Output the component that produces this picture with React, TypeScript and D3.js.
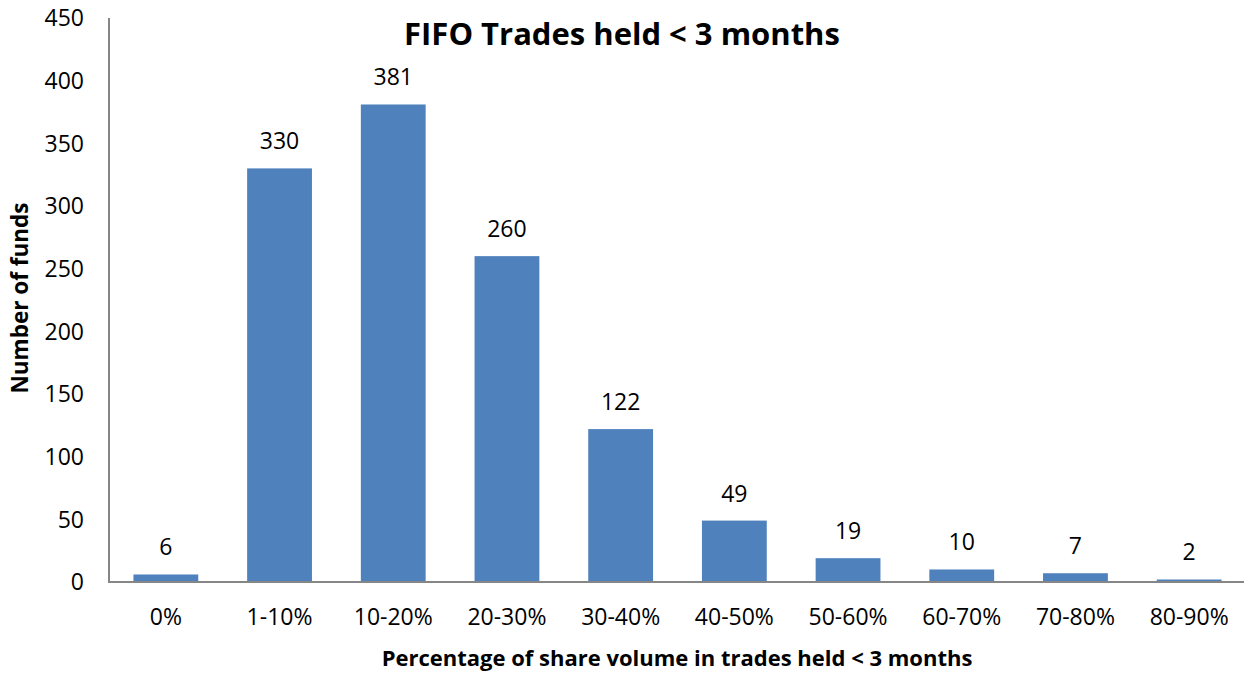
import { useEffect, useRef } from "react";
import * as d3 from "d3";

const categories = ["0%", "1-10%", "10-20%", "20-30%", "30-40%", "40-50%", "50-60%", "60-70%", "70-80%", "80-90%"];
const funds = [6, 330, 381, 260, 122, 49, 19, 10, 7, 2];
const yTicks = [0, 50, 100, 150, 200, 250, 300, 350, 400, 450];

const FONT = "'Open Sans', 'Liberation Sans', sans-serif";

export default function App() {
  const ref = useRef<SVGSVGElement>(null);
  useEffect(() => {
    if (!ref.current) return;
    const svg = d3.select(ref.current);
    svg.selectAll("*").remove();
    const W = 1244, H = 675;
    const m = { l: 109, r: 0, t: 18, b: 93 };
    const x = d3.scaleBand(categories, [m.l, 1246]).paddingInner(0.43).paddingOuter(0.215);
    const y = d3.scaleLinear([0, 450], [H - m.b, m.t]);

    svg.selectAll("rect.bar").data(funds).enter().append("rect").attr("class", "bar")
      .attr("x", (_, i) => x(categories[i])!).attr("y", (d) => y(d))
      .attr("width", x.bandwidth()).attr("height", (d) => y(0) - y(d))
      .attr("fill", "#4F81BD");

    svg.selectAll("text.v").data(funds).enter().append("text").attr("class", "v")
      .attr("x", (_, i) => x(categories[i])! + x.bandwidth() / 2)
      .attr("y", (d) => y(d) - 19)
      .attr("text-anchor", "middle").attr("font-size", 23).attr("font-family", FONT)
      .attr("fill", "#000").text((d) => d);

    // axes lines
    svg.append("line").attr("x1", m.l).attr("x2", m.l).attr("y1", m.t).attr("y2", y(0))
      .attr("stroke", "#868686").attr("stroke-width", 2);
    svg.append("line").attr("x1", m.l - 1).attr("x2", W).attr("y1", y(0)).attr("y2", y(0))
      .attr("stroke", "#868686").attr("stroke-width", 2);

    svg.selectAll("text.yt").data(yTicks).enter().append("text").attr("class", "yt")
      .attr("x", 84).attr("y", (d) => y(d)).attr("dy", "0.36em")
      .attr("text-anchor", "end").attr("font-size", 23).attr("font-family", FONT)
      .attr("fill", "#000").text((d) => d);

    svg.selectAll("text.xt").data(categories).enter().append("text").attr("class", "xt")
      .attr("x", (d) => x(d)! + x.bandwidth() / 2).attr("y", 625)
      .attr("text-anchor", "middle").attr("font-size", 23).attr("font-family", FONT)
      .attr("fill", "#000").text((d) => d);

    svg.append("text").attr("x", 622).attr("y", 45).attr("text-anchor", "middle")
      .attr("font-size", 31).attr("font-weight", "bold").attr("font-family", FONT)
      .attr("fill", "#000").text("FIFO Trades held < 3 months");

    svg.append("text").attr("x", 677).attr("y", 666).attr("text-anchor", "middle")
      .attr("font-size", 22).attr("font-weight", "bold").attr("font-family", FONT)
      .attr("fill", "#000").text("Percentage of share volume in trades held < 3 months");

    svg.append("text").attr("transform", `translate(28,298) rotate(-90)`).attr("text-anchor", "middle")
      .attr("font-size", 22.5).attr("font-weight", "bold").attr("font-family", FONT)
      .attr("fill", "#000").text("Number of funds");
  }, []);
  return (
    <svg ref={ref} width={1244} height={675}
      style={{ position: "absolute", left: 0, top: 0, background: "#fff" }} />
  );
}
